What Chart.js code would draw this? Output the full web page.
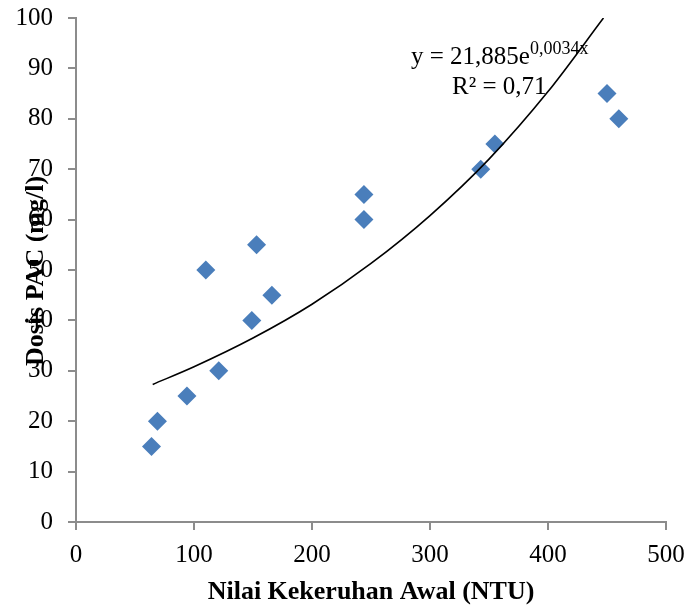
<!DOCTYPE html>
<html lang="id">
<head>
<meta charset="UTF-8">
<title>Dosis PAC vs Kekeruhan Awal</title>
<script src="https://cdn.jsdelivr.net/npm/chart.js@4.4.0/dist/chart.umd.min.js"></script>
<style>
    html, body { margin: 0; padding: 0; background: #ffffff; }
    #wrap { width: 691px; height: 612px; position: relative; }
</style>
</head>
<body>
<div id="wrap"><canvas id="chart" width="691" height="612"></canvas></div>
<script>
// observed points
const turbidity = [64, 69, 94, 121, 110, 149, 166, 153, 244, 244, 343, 355, 450, 460];
const pacDose   = [15, 20, 25, 30, 50, 40, 45, 55, 60, 65, 70, 75, 85, 80];

// exponential trendline (y = 21,885e^0,0034x)
const trendX = [65, 100, 150, 200, 250, 300, 350, 400, 447];
const trendY = [27.3, 30.8, 36.5, 43.2, 51.3, 60.8, 72.0, 85.4, 100];

const xTicks = [0, 100, 200, 300, 400, 500];
const yTicks = [0, 10, 20, 30, 40, 50, 60, 70, 80, 90, 100];

const axisGray = '#8c8c8c';
const serif = '"Liberation Serif", "Times New Roman", serif';

// y title overlaps the tick labels in the original, and the fit equation label
const extraText = {
    id: 'extraText',
    afterDraw(chart) {
        const ctx = chart.ctx;
        ctx.save();
        ctx.fillStyle = '#000';
        // y axis title
        ctx.translate(36, 271);
        ctx.rotate(-Math.PI / 2);
        ctx.font = 'bold 26px ' + serif;
        ctx.textAlign = 'center';
        ctx.textBaseline = 'middle';
        ctx.fillText('Dosis PAC (mg/l)', 0, 0);
        ctx.restore();

        ctx.save();
        ctx.fillStyle = '#000';
        ctx.textBaseline = 'alphabetic';
        ctx.font = '25px ' + serif;
        const main = 'y = 21,885e';
        ctx.fillText(main, 411, 64);
        const w = ctx.measureText(main).width;
        ctx.font = '18px ' + serif;
        ctx.fillText('0,0034x', 411 + w, 54);
        ctx.font = '25px ' + serif;
        ctx.fillText('R² = 0,71', 452, 94);
        ctx.restore();
    }
};

new Chart(document.getElementById('chart'), {
    type: 'scatter',
    data: {
        datasets: [{
            label: 'Data',
            data: turbidity.map((x, i) => ({ x: x, y: pacDose[i] })),
            pointStyle: 'rectRot',
            pointRadius: 9.5,
            pointHoverRadius: 9.5,
            backgroundColor: '#4a7ebb',
            borderColor: '#4a7ebb',
            borderWidth: 0,
            order: 2
        }, {
            label: 'Trendline',
            type: 'line',
            data: trendX.map((x, i) => ({ x: x, y: trendY[i] })),
            borderColor: '#000',
            borderWidth: 1.6,
            pointRadius: 0,
            fill: false,
            cubicInterpolationMode: 'monotone',
            order: 1
        }]
    },
    options: {
        responsive: false,
        animation: false,
        layout: { padding: { top: 18, right: 25, left: 0, bottom: 0 } },
        plugins: {
            legend: { display: false },
            tooltip: { enabled: false }
        },
        scales: {
            x: {
                type: 'linear',
                min: 0,
                max: 500,
                afterBuildTicks: s => { s.ticks = xTicks.map(v => ({ value: v })); },
                afterFit: s => { s.height = 90; s.paddingLeft = 0; s.paddingRight = 0; },
                grid: { drawOnChartArea: false, drawTicks: true, tickLength: 8, color: axisGray, lineWidth: 2 },
                border: { color: axisGray, width: 2 },
                ticks: { color: '#000', padding: 10, font: { family: serif, size: 25 } },
                title: {
                    display: true,
                    text: 'Nilai Kekeruhan Awal (NTU)',
                    color: '#000',
                    padding: { top: 2 },
                    font: { family: serif, size: 26, weight: 'bold' }
                }
            },
            y: {
                type: 'linear',
                min: 0,
                max: 100,
                afterBuildTicks: s => { s.ticks = yTicks.map(v => ({ value: v })); },
                afterFit: s => { s.width = 76; s.paddingTop = 0; s.paddingBottom = 0; },
                grid: { drawOnChartArea: false, drawTicks: true, tickLength: 8, color: axisGray, lineWidth: 2 },
                border: { color: axisGray, width: 2 },
                ticks: { color: '#000', padding: 15, font: { family: serif, size: 25 } }
            }
        }
    },
    plugins: [extraText]
});
</script>
</body>
</html>
